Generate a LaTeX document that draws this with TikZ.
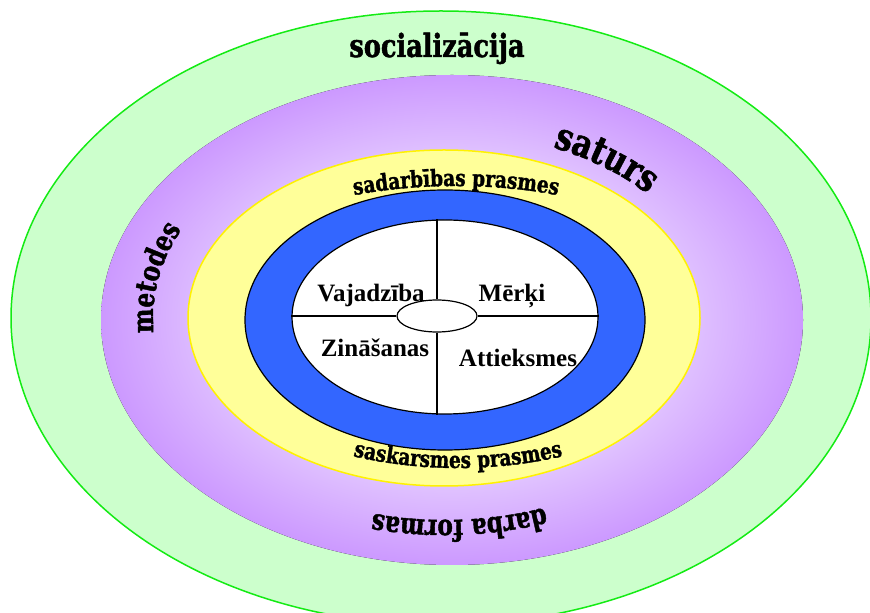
\documentclass[tikz,border=0pt]{standalone}
\usepackage{fontspec}
\setmainfont{Liberation Serif}
\newfontfamily\wordart[FakeStretch=0.8, BoldFeatures={FakeBold=1.4}]{DejaVu Serif}
\usetikzlibrary{shapes.geometric,decorations.text}

\definecolor{ringgreen}{RGB}{204,255,204}
\definecolor{ringline}{RGB}{20,235,20}
\definecolor{ringviolet}{RGB}{204,153,255}
\definecolor{ringlilac}{RGB}{224,194,255}
\definecolor{ringyellow}{RGB}{255,255,153}
\definecolor{ringblue}{RGB}{51,102,255}

\pgfdeclareradialshading{lilacglow}{\pgfpoint{0bp}{0bp}}{%
  color(0bp)=(ringlilac); color(17bp)=(ringlilac);
  color(25bp)=(ringviolet); color(50bp)=(ringviolet)}

\newcommand\wordbig{\wordart\bfseries\fontsize{38}{40}\selectfont}
\newcommand\wordmid{\wordart\bfseries\fontsize{29}{31}\selectfont}
\newcommand\wordsmall{\wordart\bfseries\fontsize{23}{25}\selectfont}

\tikzset{
  core/.style = {ellipse, draw, fill=white, line width=1.2pt,
                 minimum width=306pt, minimum height=194pt, inner sep=0pt},
  hub/.style  = {ellipse, draw, fill=white, line width=1.2pt,
                 minimum width=80pt, minimum height=32pt, inner sep=0pt},
  quad/.style = {font=\bfseries\fontsize{25}{28}\selectfont,
                 inner sep=0pt, anchor=base},
  curved/.style = {decorate, decoration={text along path,
                 text align=center, text={#1}}}
}

\begin{document}
\begin{tikzpicture}[x=1pt,y=1pt]
	\useasboundingbox (0,0) rectangle (870,613);
	\clip (0,0) rectangle (870,613);

	% Rings
	\filldraw[fill=ringgreen, draw=ringline, line width=1.5pt] (441,295) ellipse [x radius=430, y radius=307];
	\fill[shading=lilacglow] (452,293) ellipse [x radius=351, y radius=245];
	\filldraw[fill=ringyellow, draw=yellow, line width=1.5pt] (444,295) ellipse [x radius=256, y radius=168];
	\filldraw[fill=ringblue, draw=black, line width=1.2pt] (445,293) ellipse [x radius=200, y radius=130];

	% Core
	\node[core] (core) at (445,296) {};
	\node[hub] (hub) at (437,297) {};
	\draw[line width=1.2pt] (hub.north) -- (hub.north |- core.north);
	\draw[line width=1.2pt] (hub.south) -- (hub.south |- core.south);
	\draw[line width=1.2pt] (hub.west) -- (hub.west -| core.west);
	\draw[line width=1.2pt] (hub.east) -- (hub.east -| core.east);

	% Quadrant names
	\node[quad] (need) at (371,311) {Vajadzība};
	\node[quad] (aim) at (512,311) {Mērķi};
	\node[quad] (know) at (375,256) {Zināšanas};
	\node[quad] (attitude) at (518,246) {Attieksmes};

	% Ring names
	\node[font=\wordart\bfseries\fontsize{32}{34}\selectfont, anchor=base] (social) at (437,556) {socializācija};
	\path[curved={|\wordbig|saturs}] (445,295) ++(78:272 and 186) arc[start angle=78, end angle=28, x radius=272, y radius=186];
	\path[curved={|\wordmid|metodes}] (445,295) ++(198:292 and 206) arc[start angle=198, end angle=142, x radius=292, y radius=206];
	\path[curved={|\wordmid|darba formas}] (445,295) ++(303:290 and 202) arc[start angle=303, end angle=243, x radius=290, y radius=202];
	\path[curved={|\wordsmall|sadarbības prasmes}] (456,295) ++(130:278 and 132) arc[start angle=130, end angle=50, x radius=278, y radius=132];
	\path[curved={|\wordsmall|saskarsmes prasmes}] (458,295) ++(230:268 and 150) arc[start angle=230, end angle=310, x radius=268, y radius=150];

\end{tikzpicture}
\end{document}
